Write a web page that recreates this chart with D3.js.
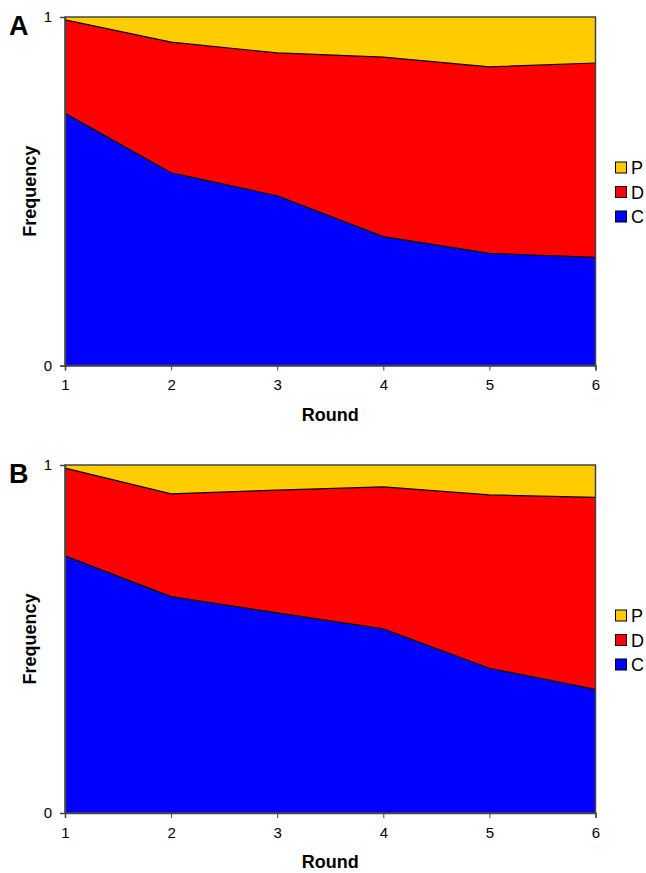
<!DOCTYPE html>
<html><head><meta charset="utf-8">
<script src="https://cdn.jsdelivr.net/npm/d3@7"></script>
<style>body{margin:0;background:#fff}svg{display:block}</style>
</head><body>
<svg id="c" width="646" height="873"></svg>
<script>
const rounds = [1, 2, 3, 4, 5, 6];
const seriesNames = ["C", "D", "P"];
const colors = {C: "#0000ff", D: "#ff0000", P: "#ffcc00"};
const legendOrder = ["P", "D", "C"];
// Panel A values (fractions)
const aC = [0.724, 0.553, 0.487, 0.370, 0.322, 0.310];
const aD = [0.268, 0.375, 0.410, 0.515, 0.535, 0.558];
const aP = [0.008, 0.072, 0.103, 0.115, 0.143, 0.132];
// Panel B values
const bC = [0.739, 0.622, 0.575, 0.529, 0.416, 0.355];
const bD = [0.252, 0.295, 0.353, 0.408, 0.498, 0.552];
const bP = [0.009, 0.083, 0.072, 0.063, 0.086, 0.093];
const yTicks = [0, 1];

const svg = d3.select("#c");
const font = "Arial, 'Liberation Sans', sans-serif";

function panel(label, C, D, P, top, bottom) {
  const left = 65, right = 595.5;
  const x = d3.scaleLinear().domain([1, 6]).range([left, right]);
  const y = d3.scaleLinear().domain([0, 1]).range([bottom, top]);
  const data = rounds.map((r, i) => ({round: r, C: C[i], D: D[i], P: P[i]}));
  const stack = d3.stack().keys(seriesNames)(data);
  const area = d3.area().x(d => x(d.data.round)).y0(d => y(d[0])).y1(d => y(Math.min(1, d[1])));
  const g = svg.append("g");
  stack.forEach(s => {
    g.append("path").attr("d", area(s)).attr("fill", colors[s.key]);
  });
  // boundary lines
  const line = d3.line().x(d => x(d.data.round)).y(d => y(Math.min(1, d[1])));
  stack.slice(0, 2).forEach(s => {
    g.append("path").attr("d", line(s)).attr("fill", "none").attr("stroke", "#000").attr("stroke-width", 1.2);
  });
  // frame
  g.append("rect").attr("x", left).attr("y", top).attr("width", right - left).attr("height", bottom - top)
    .attr("fill", "none").attr("stroke", "#444").attr("stroke-width", 1.5);
  // axes
  const yAxis = d3.axisLeft(y).tickValues(yTicks).tickFormat(d3.format("d")).tickSize(5).tickPadding(8);
  const ya = g.append("g").attr("transform", `translate(${left},0)`).call(yAxis);
  const xAxis = d3.axisBottom(x).tickValues(rounds).tickFormat(d3.format("d")).tickSize(5).tickPadding(9);
  const xa = g.append("g").attr("transform", `translate(0,${bottom})`).call(xAxis);
  [ya, xa].forEach(a => {
    a.attr("font-size", 15).attr("font-family", font);
    a.select(".domain").attr("stroke", "#444").attr("stroke-width", 1.5);
    a.selectAll(".tick line").attr("stroke", "#444");
    a.selectAll("text").style("font-family", font).style("font-size", "15px").attr("fill", "#000");
  });
  // labels
  g.append("text").attr("x", 9).attr("y", top + 18).style("font-family", font).attr("font-weight", "bold")
    .style("font-size", "27px").text(label);
  g.append("text").attr("transform", `translate(36,${(top + bottom) / 2}) rotate(-90)`).attr("text-anchor", "middle")
    .style("font-family", font).attr("font-weight", "bold").style("font-size", "18px").text("Frequency");
  g.append("text").attr("x", (left + right) / 2).attr("y", bottom + 55).attr("text-anchor", "middle")
    .style("font-family", font).attr("font-weight", "bold").style("font-size", "18px").text("Round");
  // legend
  const ly0 = top + 145;
  legendOrder.forEach((k, i) => {
    const yy = ly0 + i * 24.5;
    g.append("rect").attr("x", 615.5).attr("y", yy).attr("width", 11).attr("height", 11)
      .attr("fill", colors[k]).attr("stroke", "#000").attr("stroke-width", 1);
    g.append("text").attr("x", 631).attr("y", yy + 12).style("font-family", font).style("font-size", "18px").text(k);
  });
}
panel("A", aC, aD, aP, 17, 365.5);
panel("B", bC, bD, bP, 465, 813);
</script>
</body></html>
